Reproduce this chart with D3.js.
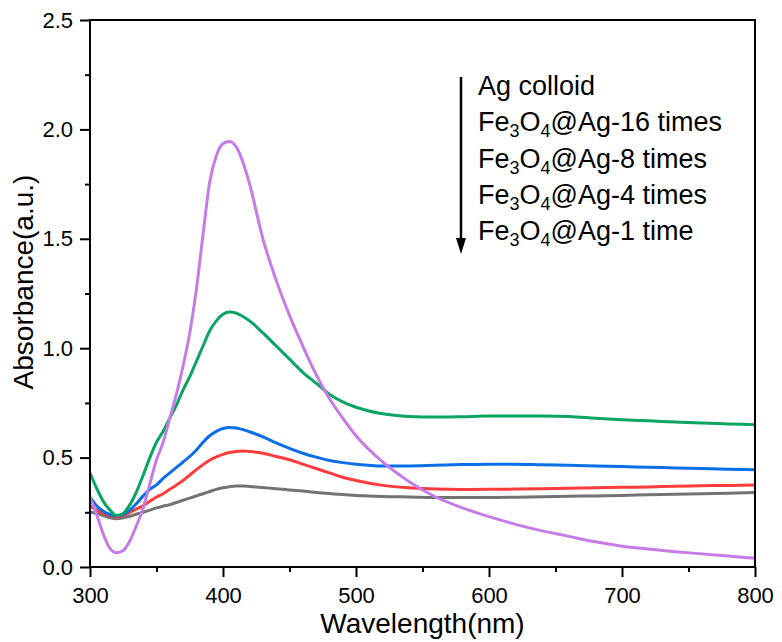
<!DOCTYPE html>
<html>
<head>
<meta charset="utf-8">
<script src="https://cdn.jsdelivr.net/npm/d3@7"></script>
<style>
  body { margin: 0; background: #fff; }
  svg { display: block; font-family: Arial, "Liberation Sans", sans-serif; }
</style>
</head>
<body>
<svg id="chart" width="782" height="642"></svg>
<script>
// wavelength grid (nm)
const wavelength = [300,305,310,315,320,325,330,335,340,345,350,355,360,365,370,375,380,385,390,395,400,405,410,415,420,
    430,440,450,460,470,480,490,500,
    520,540,560,580,600,620,640,660,680,700,720,740,760,780,800];

const agColloid = [0.32,0.24,0.15,0.085,0.065,0.075,0.12,0.19,0.27,0.38,0.49,0.57,0.68,0.79,0.92,1.07,1.27,1.52,1.76,1.88,1.935,1.945,1.92,1.85,1.75,
    1.50,1.31,1.15,1.01,0.88,0.77,0.68,0.60,
    0.48,0.39,0.32,0.27,0.23,0.195,0.165,0.14,0.115,0.095,0.082,0.07,0.06,0.05,0.04];
const ag16 = [0.43,0.36,0.30,0.26,0.235,0.245,0.285,0.345,0.42,0.50,0.57,0.62,0.68,0.74,0.81,0.87,0.94,1.01,1.08,1.125,1.155,1.165,1.16,1.145,1.125,
    1.07,1.01,0.95,0.89,0.84,0.79,0.755,0.73,
    0.70,0.688,0.685,0.687,0.69,0.69,0.69,0.688,0.68,0.673,0.668,0.663,0.658,0.654,0.65];
const ag8 = [0.32,0.28,0.255,0.24,0.235,0.24,0.26,0.29,0.325,0.355,0.375,0.405,0.43,0.455,0.48,0.505,0.535,0.57,0.60,0.62,0.633,0.638,0.635,0.628,0.618,
    0.595,0.567,0.542,0.52,0.502,0.487,0.477,0.47,
    0.462,0.462,0.465,0.468,0.47,0.47,0.467,0.465,0.462,0.459,0.456,0.453,0.45,0.447,0.445];
const ag4 = [0.28,0.26,0.245,0.235,0.23,0.235,0.25,0.265,0.28,0.30,0.32,0.335,0.355,0.375,0.395,0.42,0.445,0.468,0.488,0.503,0.515,0.523,0.528,0.53,0.528,
    0.52,0.505,0.49,0.47,0.45,0.43,0.41,0.395,
    0.373,0.362,0.356,0.354,0.355,0.356,0.358,0.36,0.362,0.364,0.366,0.369,0.371,0.373,0.375];
const ag1 = [0.25,0.245,0.235,0.225,0.22,0.225,0.232,0.242,0.25,0.26,0.27,0.278,0.285,0.295,0.305,0.315,0.325,0.335,0.345,0.355,0.362,0.367,0.37,0.37,0.368,
    0.363,0.358,0.352,0.347,0.341,0.336,0.331,0.327,
    0.322,0.32,0.318,0.318,0.318,0.319,0.321,0.323,0.325,0.327,0.33,0.332,0.335,0.337,0.34];

const xTicks = [300,400,500,600,700,800];
const yTicks = [0.0,0.5,1.0,1.5,2.0,2.5];

// drawn bottom to top
const series = [
    {name: "Fe3O4@Ag-1 time",    values: ag1,       color: "#737373"},
    {name: "Fe3O4@Ag-4 times",   values: ag4,       color: "#ff3b3b"},
    {name: "Fe3O4@Ag-8 times",   values: ag8,       color: "#0a6fe6"},
    {name: "Fe3O4@Ag-16 times",  values: ag16,      color: "#0aa463"},
    {name: "Ag colloid",         values: agColloid, color: "#c57ce6"}
];

const legendLines = [
    {main: "Ag colloid"},
    {num: "16 times"},
    {num: "8 times"},
    {num: "4 times"},
    {num: "1 time"}
];

const svg = d3.select("#chart");
const margin = {left: 90, right: 27, top: 20, bottom: 75};
const W = 782, H = 642;
const x = d3.scaleLinear().domain([300, 800]).range([margin.left, W - margin.right]);
const y = d3.scaleLinear().domain([0, 2.5]).range([H - margin.bottom, margin.top]);

// minor ticks
svg.append("g")
    .attr("transform", `translate(0,${y(0)})`)
    .call(d3.axisBottom(x).tickValues(d3.range(350, 800, 100)).tickSize(5).tickFormat(""))
    .call(g => g.select(".domain").remove())
    .selectAll("line").attr("stroke", "#000").attr("stroke-width", 2);
svg.append("g")
    .attr("transform", `translate(${x(300)},0)`)
    .call(d3.axisLeft(y).tickValues(d3.range(0.25, 2.5, 0.5)).tickSize(5).tickFormat(""))
    .call(g => g.select(".domain").remove())
    .selectAll("line").attr("stroke", "#000").attr("stroke-width", 2);

// major ticks
const xAxis = svg.append("g")
    .attr("transform", `translate(0,${y(0)})`)
    .call(d3.axisBottom(x).tickValues(xTicks).tickSize(10).tickPadding(6).tickFormat(d3.format("d")));
xAxis.select(".domain").remove();
xAxis.selectAll("line").attr("stroke", "#000").attr("stroke-width", 2);
xAxis.selectAll("text").attr("font-size", 22).attr("fill", "#000")
    .attr("dy", null).attr("y", 36);

const yAxis = svg.append("g")
    .attr("transform", `translate(${x(300)},0)`)
    .call(d3.axisLeft(y).tickValues(yTicks).tickSize(10).tickPadding(7).tickFormat(d3.format(".1f")));
yAxis.select(".domain").remove();
yAxis.selectAll("line").attr("stroke", "#000").attr("stroke-width", 2);
yAxis.selectAll("text").attr("font-size", 22).attr("fill", "#000");

// curves
const line = d3.line()
    .x((d, i) => x(wavelength[i]))
    .y(d => y(d))
    .curve(d3.curveMonotoneX);

svg.append("g").selectAll("path")
    .data(series)
    .join("path")
    .attr("d", d => line(d.values))
    .attr("fill", "none")
    .attr("stroke", d => d.color)
    .attr("stroke-width", 3)
    .attr("stroke-linejoin", "round");

// frame
svg.append("rect")
    .attr("x", x(300)).attr("y", y(2.5))
    .attr("width", x(800) - x(300)).attr("height", y(0) - y(2.5))
    .attr("fill", "none").attr("stroke", "#000").attr("stroke-width", 2);

// axis titles
svg.append("text")
    .attr("x", (x(300) + x(800)) / 2).attr("y", 633)
    .attr("text-anchor", "middle").attr("font-size", 28)
    .text("Wavelength(nm)");
svg.append("text")
    .attr("transform", `translate(33,282) rotate(-90)`)
    .attr("text-anchor", "middle").attr("font-size", 28)
    .text("Absorbance(a.u.)");

// legend: arrow + labels
const lg = svg.append("g");
const arrowX = 461, arrowTop = 77, arrowTip = 254;
lg.append("line")
    .attr("x1", arrowX).attr("x2", arrowX)
    .attr("y1", arrowTop).attr("y2", arrowTip - 12)
    .attr("stroke", "#000").attr("stroke-width", 2.5);
lg.append("path")
    .attr("d", `M${arrowX - 5},${arrowTip - 16}L${arrowX + 5},${arrowTip - 16}L${arrowX},${arrowTip}Z`)
    .attr("fill", "#000");

const baseY = 95, step = 36.3;
legendLines.forEach((l, i) => {
    const t = lg.append("text")
        .attr("x", 478).attr("y", baseY + i * step)
        .attr("font-size", 27).attr("fill", "#000");
    if (l.main) {
        t.text(l.main);
    } else {
        t.append("tspan").text("Fe");
        t.append("tspan").attr("font-size", 18).attr("dy", 6).text("3");
        t.append("tspan").attr("dy", -6).text("O");
        t.append("tspan").attr("font-size", 18).attr("dy", 6).text("4");
        t.append("tspan").attr("dy", -6).text("@Ag-" + l.num);
    }
});
</script>
</body>
</html>
